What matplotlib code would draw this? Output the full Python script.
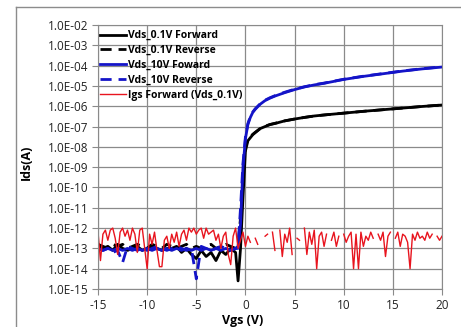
import matplotlib.pyplot as plt
import numpy as np
from matplotlib.ticker import FixedLocator, FuncFormatter, NullLocator

# Vgs grid for the drain current sweeps
vgs = [-15, -14.5, -14, -13.5, -13, -12.5, -12, -11.5, -11, -10.5,
       -10, -9.5, -9, -8.5, -8, -7.5, -7, -6.5, -6, -5.5,
       -5, -4.5, -4, -3.5, -3, -2.5, -2, -1.5, -1,
       -0.75, -0.5, -0.25, 0, 0.25, 0.5, 0.75, 1, 1.5, 2, 2.5, 3,
       4, 5, 6, 7, 8, 10, 12, 14, 16, 18, 20]

# log10(Ids) values
logIds01Fwd = [-12.9, -13.0, -12.9, -13.1, -12.8, -13.0, -13.1, -13.0, -12.9, -13.1,
               -13.0, -12.9, -13.0, -13.1, -13.0, -13.0, -12.9, -13.2, -13.0, -13.3,
               -13.5, -13.1, -13.4, -13.2, -13.6, -13.1, -13.3, -13.0, -13.2,
               -14.6, -13.0, -10.5, -8.2, -7.7, -7.55, -7.4, -7.3, -7.1, -7.0, -6.9, -6.85,
               -6.72, -6.63, -6.55, -6.48, -6.43, -6.34, -6.25, -6.17, -6.09, -6.01, -5.94]
logIds01Rev = [-12.8, -12.9, -13.0, -12.8, -12.9, -12.8, -13.0, -12.9, -12.8, -12.9,
               -13.0, -12.8, -12.9, -13.0, -12.8, -12.9, -13.0, -12.9, -12.8, -13.0,
               -12.9, -13.0, -12.9, -12.8, -13.0, -12.9, -12.8, -12.9, -13.0,
               -12.8, -11.5, -9.6, -8.0, -7.65, -7.5, -7.38, -7.28, -7.1, -6.98, -6.9, -6.84,
               -6.72, -6.63, -6.55, -6.48, -6.43, -6.34, -6.25, -6.17, -6.09, -6.01, -5.94]
logIds10Fwd = [-13.0, -13.1, -13.0, -13.1, -13.0, -13.1, -13.0, -13.1, -13.0, -13.1,
               -13.0, -13.1, -13.0, -13.1, -13.0, -13.1, -13.0, -13.1, -13.0, -13.1,
               -13.0, -13.1, -13.0, -13.1, -13.0, -13.1, -13.0, -13.1, -13.0,
               -13.0, -11.8, -9.0, -7.6, -6.9, -6.55, -6.3, -6.15, -5.9, -5.72, -5.6, -5.5,
               -5.33, -5.18, -5.05, -4.95, -4.87, -4.68, -4.53, -4.4, -4.27, -4.16, -4.07]
logIds10Rev = [-13.0, -13.1, -13.0, -13.2, -13.1, -13.7, -12.9, -13.0, -13.1, -13.0,
               -13.1, -13.0, -12.9, -13.0, -13.1, -13.0, -12.9, -13.0, -13.1, -13.0,
               -14.5, -12.9, -13.0, -13.1, -13.0, -12.9, -13.0, -13.1, -13.0,
               -12.9, -11.0, -8.8, -7.5, -6.85, -6.5, -6.28, -6.12, -5.88, -5.7, -5.58, -5.48,
               -5.31, -5.16, -5.04, -4.94, -4.86, -4.67, -4.52, -4.39, -4.26, -4.15, -4.06]

# gate leakage, 0.25 V steps from -15 to 20 (nan = no point drawn)
vgsIgs = np.arange(-15, 20.001, 0.25)
nan = np.nan
logIgs = [-12.2, -13.6, -12.3, -12.1, -12.6, -12.1, -12.0, -12.5, -13.3, -12.2,
          -12.0, -12.4, -12.1, -12.6, -12.0, -12.3, -13.2, -12.1, -12.0, -13.0,
          -14.0, -12.3, -12.8, -12.2, -13.1, -13.9, -13.9, -12.6, -12.4, -13.0,
          -12.3, -12.7, -12.2, -12.9, -12.3, -12.1, -12.6, -12.0, -12.2, -12.0,
          -12.3, -12.1, -12.0, -12.5, -12.0, -12.3, -12.2, -12.1, -12.6, -12.3,
          -13.0, -12.4, -12.2, -13.3, -13.8, -12.4, -12.0, -13.0, -12.6, -12.2,
          -12.9,
          -12.4, -12.7, nan, -12.5, -12.8, nan, nan, -12.4, -12.3, nan,
          -12.2, -13.1, nan, -12.1, -13.4, -12.3, -12.7, -12.0, -13.3, nan,
          -12.5, -12.6, nan, -12.0, -13.3, -12.2, -12.8, -12.1, -14.0, -12.4,
          -12.2, -12.9, -12.3, nan, -12.6, -12.2, -12.9, -12.4, nan, -12.3,
          -12.7, -12.4, -12.2, -14.0, -12.3, -14.0, -12.2, -12.9, -12.4, -12.6,
          -12.2, -12.5, nan, -12.3, -12.6, -12.2, -13.4, -12.4, -12.2, nan,
          -12.5, -12.2, -12.9, -12.3, -12.4, -12.7, -14.0, -12.3, -12.6, -12.2,
          -12.5, -12.4, -12.6, -12.2, -12.5, -12.3, nan, -12.4, -12.6, -12.4]

labels = ["Vds_0.1V Forward", "Vds_0.1V Reverse", "Vds_10V Foward",
          "Vds_10V Reverse", "Igs Forward (Vds_0.1V)"]

plt.rcParams['font.family'] = ['Open Sans', 'DejaVu Sans']
plt.rcParams['axes.unicode_minus'] = False

fig = plt.figure(figsize=(4.61, 3.27), dpi=100)
ax = fig.add_axes([0.2126, 0.1162, 0.7462, 0.8073])

# outer chart frame
fig.add_artist(plt.Line2D([16/461, 16/461], [0, 1 - 7/327], color='#8c8c8c', lw=1))
fig.add_artist(plt.Line2D([16/461, 1], [1 - 7/327, 1 - 7/327], color='#8c8c8c', lw=1))

ax.plot(vgs, 10.0 ** np.array(logIds01Fwd), color='black', lw=2, label=labels[0])
ax.plot(vgs, 10.0 ** np.array(logIds01Rev), color='black', lw=2, ls=(0, (4, 2.5)), label=labels[1])
ax.plot(vgs, 10.0 ** np.array(logIds10Fwd), color='#1414c8', lw=2, label=labels[2])
ax.plot(vgs, 10.0 ** np.array(logIds10Rev), color='#1414c8', lw=2, ls=(0, (4, 2.5)), label=labels[3])
ax.plot(vgsIgs, 10.0 ** np.array(logIgs), color='#e8141e', lw=1, label=labels[4])

ax.set_yscale('log')
ax.set_xlim(-15, 20)
ax.set_ylim(1e-15, 1e-2)
ax.set_xticks([-15, -10, -5, 0, 5, 10, 15, 20])
ax.yaxis.set_major_locator(FixedLocator([10.0 ** e for e in range(-15, -1)]))
ax.yaxis.set_minor_locator(NullLocator())
ax.yaxis.set_major_formatter(FuncFormatter(lambda v, p: "1.0E-%02d" % round(-np.log10(v))))

ax.grid(True, color='#8a8a8a', lw=0.9)
ax.set_axisbelow(True)
for s in ax.spines.values():
    s.set_color('#8a8a8a')
ax.tick_params(axis='both', length=4, color='#8a8a8a', labelsize=8.5, labelcolor='#222222', pad=3)

ax.set_ylabel("Ids(A)", fontsize=9, fontweight='bold')
ax.yaxis.set_label_coords(-0.189, 0.48)
ax.set_xlabel("Vgs (V)", fontsize=9, fontweight='bold')
ax.xaxis.set_label_coords(0.42, -0.095)

leg = ax.legend(loc='upper left', bbox_to_anchor=(-0.01, 1.0), frameon=False,
                handlelength=2.5, handletextpad=0.2, labelspacing=0.37,
                borderaxespad=0.1, prop={'weight': 'bold', 'size': 7.5})

fig.savefig("out.png", dpi=100)
